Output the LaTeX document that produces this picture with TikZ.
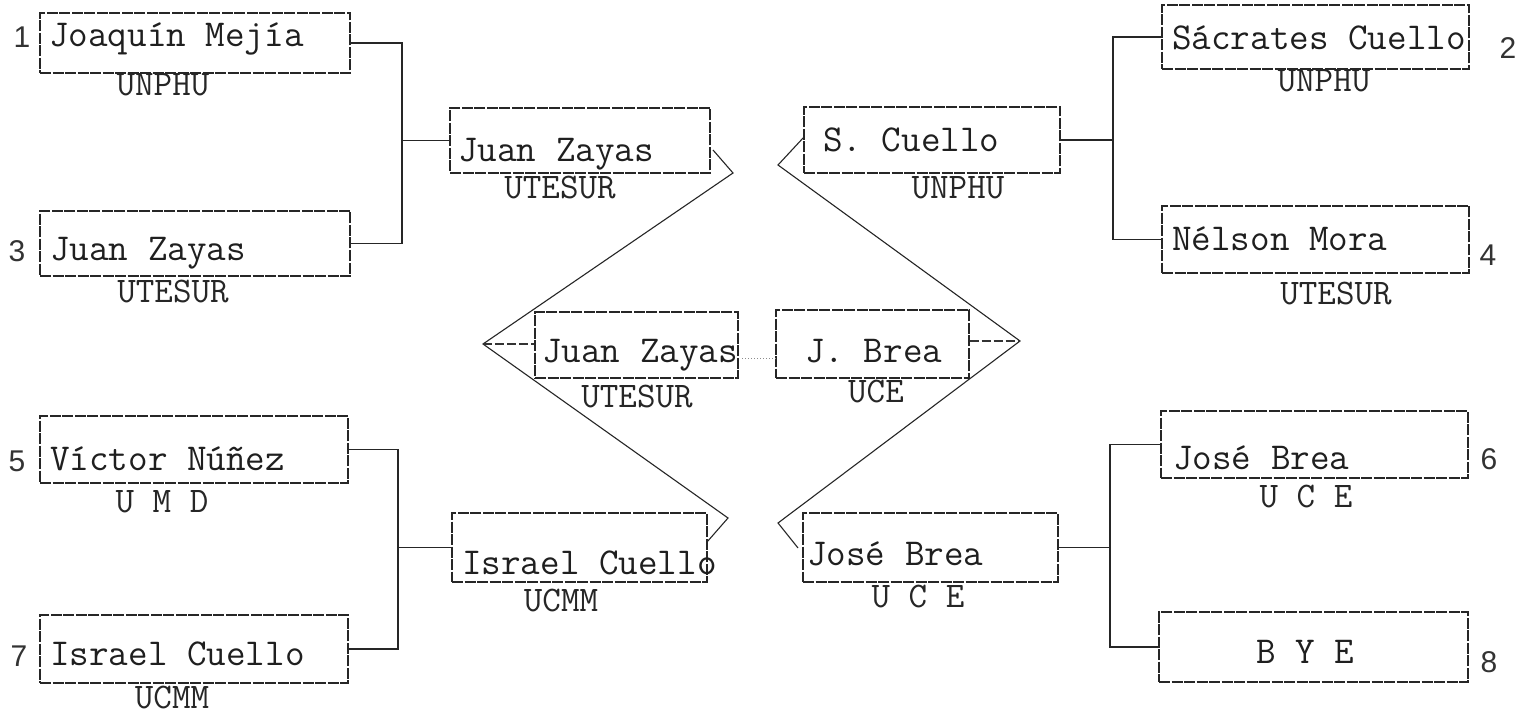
\documentclass[tikz,border=0pt]{standalone}
\usepackage{fontspec}
\newfontfamily\numfont{Liberation Sans}
\begin{document}
\begin{tikzpicture}[x=1pt,y=-1pt,
  box/.style={draw=black!85, line width=1.1pt, dash pattern=on 11pt off 1.5pt, inner sep=0pt, rectangle},
  conn/.style={draw=black!85, line width=1.1pt},
  semiconn/.style={draw=black!80, line width=1.1pt, dash pattern=on 9pt off 3pt},
  faint/.style={draw=black!45, line width=1pt, dotted},
  team/.style={font=\ttfamily\fontsize{38}{44}\selectfont, text=black!88, inner sep=0pt, anchor=base west},
  uni/.style={font=\ttfamily\fontsize{36}{42}\selectfont, text=black!85, inner sep=0pt, anchor=base},
  seed/.style={font=\numfont\fontsize{30}{36}\selectfont, text=black!80, inner sep=0pt, anchor=center}]
\useasboundingbox[fill=white] (0,0) rectangle (1531,714);

% ---- first-round boxes
\node[box, minimum width=310, minimum height=60] (b1) at (195,43) {};
\node[box, minimum width=310, minimum height=65] (b3) at (195,243.5) {};
\node[box, minimum width=308, minimum height=67] (b5) at (194,449.5) {};
\node[box, minimum width=308, minimum height=68] (b7) at (194,649) {};
\node[box, minimum width=307, minimum height=64] (b2) at (1315.5,37) {};
\node[box, minimum width=307, minimum height=67] (b4) at (1315.5,239.5) {};
\node[box, minimum width=307, minimum height=67] (b6) at (1314.5,444.5) {};
\node[box, minimum width=309, minimum height=70] (b8) at (1313.5,647) {};
% ---- second-round boxes
\node[box, minimum width=260, minimum height=65] (q1) at (580,140.5) {};
\node[box, minimum width=256, minimum height=66] (q2) at (932,140) {};
\node[box, minimum width=255, minimum height=69] (q3) at (579.5,547.5) {};
\node[box, minimum width=255, minimum height=69] (q4) at (930.5,547.5) {};
% ---- semifinal boxes
\node[box, minimum width=203, minimum height=66] (s1) at (636.5,345) {};
\node[box, minimum width=193, minimum height=68] (s2) at (872.5,344) {};

% ---- names
\node[team] (t1) at (49,47) {Joaquín Mejía};
\node[team] (t3) at (50,260) {Juan Zayas};
\node[team] (t5) at (50,470) {Víctor Núñez};
\node[team] (t7) at (50,665) {Israel Cuello};
\node[team] (t2) at (1172,50) {Sácrates Cuello};
\node[team] (t4) at (1172,250) {Nélson Mora};
\node[team] (t6) at (1173,469) {José Brea};
\node[team, anchor=base] (t8) at (1305,663) {B Y E};
\node[team] (tq1) at (458,162) {Juan Zayas};
\node[team] (tq2) at (823,152) {S. Cuello};
\node[team] (tq3) at (462,574) {Israel Cuello};
\node[team] (tq4) at (807,565) {José Brea};
\node[team] (ts1) at (542,362) {Juan Zayas};
\node[team] (ts2) at (805,362) {J. Brea};

% ---- universities
\node[uni] (u1) at (163,96) {UNPHU};
\node[uni] (u3) at (173,302) {UTESUR};
\node[uni] (u5) at (162,512) {U M D};
\node[uni] (u7) at (172,708) {UCMM};
\node[uni] (u2) at (1324,92) {UNPHU};
\node[uni] (u4) at (1336,304) {UTESUR};
\node[uni] (u6) at (1306,507) {U C E};
\node[uni] (uq1) at (560,199) {UTESUR};
\node[uni] (uq2) at (958,199) {UNPHU};
\node[uni] (uq3) at (561,611) {UCMM};
\node[uni] (uq4) at (918,607) {U C E};
\node[uni] (us1) at (637,407) {UTESUR};
\node[uni] (us2) at (876,402) {UCE};

% ---- seeds
\node[seed] (n1) at (22,37) {1};
\node[seed] (n3) at (17,251) {3};
\node[seed] (n5) at (17,461) {5};
\node[seed] (n7) at (19,656) {7};
\node[seed] (n2) at (1508,48) {2};
\node[seed] (n4) at (1488,255) {4};
\node[seed] (n6) at (1489,459) {6};
\node[seed] (n8) at (1489,662) {8};

% ---- bracket joints
\coordinate (j1) at (402,140.5);
\coordinate (j2) at (1113,140);
\coordinate (j3) at (398,547.5);
\coordinate (j4) at (1110,547.5);
\draw[conn] (b1.east) -| (j1) |- (b3.east);
\draw[conn] (j1) -- (q1.west);
\draw[conn] (b2.west) -| (j2) |- (b4.west);
\draw[conn] (j2) -- (q2.east);
\draw[conn] (b5.east) -| (j3) |- (b7.east);
\draw[conn] (j3) -- (q3.west);
\draw[conn] (b6.west) -| (j4) |- (b8.west);
\draw[conn] (j4) -- (q4.east);

% ---- chevron connectors
\coordinate (a1) at (713,150);
\coordinate (v1) at (733,173);
\coordinate (v3) at (483,344);
\coordinate (v5) at (728,518);
\coordinate (a5) at (707,542);
\coordinate (a2) at (804,137);
\coordinate (v2) at (778,165);
\coordinate (v4) at (1020,341);
\coordinate (v6) at (778,523);
\coordinate (a6) at (798,548);
\draw[conn, line join=miter] (a1) -- (v1) -- (v3) -- (v5) -- (a5);
\draw[conn, line join=miter] (a2) -- (v2) -- (v4) -- (v6) -- (a6);
\draw[semiconn] (v3) -- (s1.west |- v3);
\draw[semiconn] (s2.east |- v4) -- (v4);
\draw[faint] (742,358) -- (776,358);
\end{tikzpicture}
\end{document}
